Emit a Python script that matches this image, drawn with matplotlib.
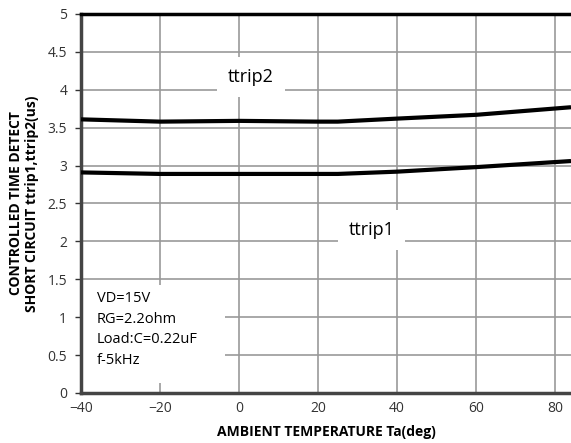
import matplotlib
matplotlib.use("Agg")
import matplotlib.pyplot as plt
from matplotlib.patches import Rectangle

# temperature points (deg C) and trip times (us)
temp = [-40, -20, 0, 20, 25, 40, 60, 84]
ttrip2 = [3.61, 3.58, 3.59, 3.58, 3.58, 3.62, 3.67, 3.77]
ttrip1 = [2.91, 2.89, 2.89, 2.89, 2.89, 2.92, 2.98, 3.06]

xticks = [-40, -20, 0, 20, 40, 60, 80]
yticks = [0, 0.5, 1, 1.5, 2, 2.5, 3, 3.5, 4, 4.5, 5]
ytick_labels = ['0', '0.5', '1', '1.5', '2', '2.5', '3', '3.5', '4', '4.5', '5']
conditions = "VD=15V\nRG=2.2ohm\nLoad:C=0.22uF\nf-5kHz"

plt.rcParams['font.family'] = ['Open Sans', 'DejaVu Sans']

fig = plt.figure(figsize=(5.71, 4.43), dpi=100)
ax = fig.add_axes([0.1419, 0.1129, 0.8581, 0.8555])

ax.plot(temp, ttrip2, color='black', lw=3, solid_capstyle='butt', zorder=3)
ax.plot(temp, ttrip1, color='black', lw=3, solid_capstyle='butt', zorder=3)

ax.set_xlim(-40, 84)
ax.set_ylim(0, 5)
ax.set_xticks(xticks)
ax.set_xticklabels([str(t).replace('-', '\u2212') for t in xticks])
ax.set_yticks(yticks)
ax.set_yticklabels(ytick_labels)
ax.grid(True, color='#999999', lw=1.2, zorder=1)
ax.set_axisbelow(True)

ax.tick_params(axis='both', labelsize=10, colors='#333333', length=4, width=1)
ax.tick_params(axis='x', length=0, pad=6)
ax.tick_params(axis='y', direction='out', pad=6)

for side in ['left', 'bottom']:
    ax.spines[side].set_color('#444444')
    ax.spines[side].set_linewidth(2.5)
ax.spines['top'].set_color('black')
ax.spines['top'].set_linewidth(2.5)
ax.spines['right'].set_visible(False)

# white area behind the test conditions (hides the grid there)
ax.add_patch(Rectangle((-40, 0.13), 36.4, 1.29, facecolor='white',
                       edgecolor='none', zorder=1.5))

box = dict(boxstyle='square,pad=0.6', facecolor='white', edgecolor='none')
ax.text(3, 4.17, 'ttrip2', fontsize=13, ha='center', va='center', bbox=box, zorder=2)
ax.text(33.5, 2.15, 'ttrip1', fontsize=13, ha='center', va='center', bbox=box, zorder=2)
ax.text(-36, 1.34, conditions, fontsize=10.5, ha='left', va='top', linespacing=1.5, zorder=2)

ax.set_xlabel('AMBIENT TEMPERATURE Ta(deg)', fontsize=10, fontweight='bold', labelpad=6)
ax.set_ylabel('CONTROLLED TIME DETECT\nSHORT CIRCUIT ttrip1,ttrip2(us)',
              fontsize=10, fontweight='bold', labelpad=6)

fig.savefig('out.png', dpi=100)
